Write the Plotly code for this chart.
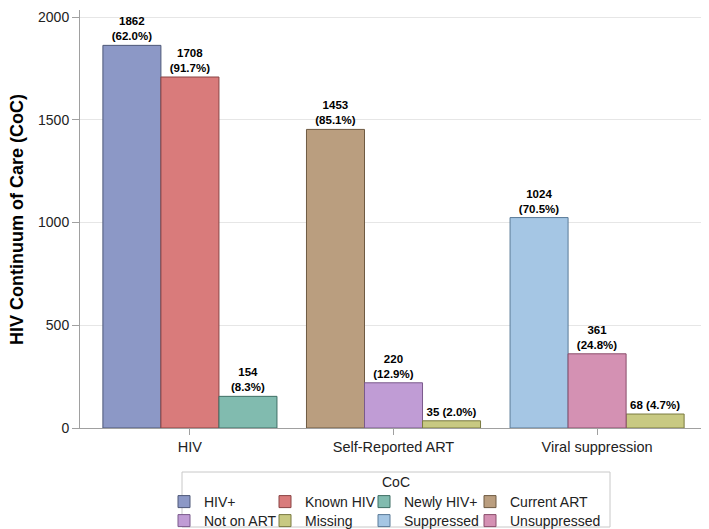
import plotly.graph_objects as go

categories = ['HIV', 'Self-Reported ART', 'Viral suppression']

# one entry per CoC level: name, categories it appears in, counts, percents, slot in group
series_names = ['HIV+', 'Known HIV', 'Newly HIV+', 'Current ART',
                'Not on ART', 'Missing', 'Suppressed', 'Unsuppressed']
series_cats = [['HIV'], ['HIV'], ['HIV'], ['Self-Reported ART'],
               ['Self-Reported ART'], ['Self-Reported ART', 'Viral suppression'],
               ['Viral suppression'], ['Viral suppression']]
series_counts = [[1862], [1708], [154], [1453], [220], [35, 68], [1024], [361]]
series_pcts = [[62.0], [91.7], [8.3], [85.1], [12.9], [2.0, 4.7], [70.5], [24.8]]
series_slot = ['1', '2', '3', '1', '2', '3', '1', '2']

fill_colors = ['#8C98C6', '#D97B7B', '#81BBAF', '#BA9E7F',
               '#C09CD5', '#C8C982', '#A5C6E4', '#D491B3']
line_colors = ['#4E5878', '#8A4444', '#3F6F65', '#6E5A42',
               '#7A5A8C', '#7A7A40', '#5A7A98', '#8A4E6C']

# the page is drawn with an 8px body margin, so positions below are page px minus 8
OFF = 8
W, H = 709 - OFF, 529 - OFF
L, R, T, B = 80 - OFF, 3, 2, 101
PW, PH = W - L - R, H - T - B

def px_x(p):
    return (p - OFF - L) / PW

def px_y(p):
    return (H - B - (p - OFF)) / PH

legend_cols = [183, 284, 383, 489]
legend_rows = [499, 518]

fig = go.Figure()
legends = {}

for i, name in enumerate(series_names):
    labels = []
    for v, p in zip(series_counts[i], series_pcts[i]):
        if v < 100:
            labels.append(f'{v} ({p:.1f}%)')
        else:
            labels.append(f'{v}<br>({p:.1f}%)')
    key = f'legend{i + 2}'
    fig.add_trace(go.Bar(
        x=series_cats[i], y=series_counts[i], name=name,
        offsetgroup=series_slot[i],
        marker=dict(color=fill_colors[i], line=dict(color=line_colors[i], width=1)),
        text=labels, textposition='outside', cliponaxis=False,
        textfont=dict(family='Liberation Sans, Arial', size=11.5, color='black', weight='bold'),
        legend=key,
    ))
    sx = legend_cols[i % 4]
    sy = legend_rows[i // 4]
    legends[key] = dict(
        xref='container', yref='container',
        x=(sx - OFF - 19) / W, xanchor='left',
        y=1 - (sy - OFF - 13) / H, yanchor='top',
        font=dict(family='Liberation Sans, Arial', size=14, color='#222'),
        bgcolor='rgba(0,0,0,0)',
    )

fig.update_layout(
    width=W, height=H,
    margin=dict(l=L, r=R, t=T, b=B, autoexpand=False),
    paper_bgcolor='white', plot_bgcolor='white',
    barmode='group', bargap=0.145, bargroupgap=0,
    font=dict(family='Liberation Sans, Arial', color='#222'),
    xaxis=dict(
        categoryorder='array', categoryarray=categories,
        range=[-0.54, 2.535],
        showline=True, linecolor='#A0A0A0', linewidth=1,
        ticks='outside', ticklen=6, tickcolor='#A0A0A0',
        tickfont=dict(size=14.5, color='#222'),
        showgrid=False, automargin=False,
    ),
    yaxis=dict(
        range=[0, PH / 0.2055], tickvals=[0, 500, 1000, 1500, 2000],
        showline=True, linecolor='#A0A0A0', linewidth=1,
        ticks='outside', ticklen=7, tickcolor='#A0A0A0',
        tickfont=dict(size=14, color='#222'), ticklabeloverflow='allow',
        showgrid=True, gridcolor='#E6E6E6', zeroline=False, automargin=False,
    ),
    annotations=[
        dict(text='HIV Continuum of Care (CoC)', xref='paper', yref='paper',
             x=px_x(17), y=px_y(220), textangle=-90,
             xanchor='center', yanchor='middle', showarrow=False,
             font=dict(size=18, color='black', weight='bold')),
        dict(text='CoC', xref='paper', yref='paper',
             x=px_x(396), y=px_y(482), xanchor='center', yanchor='middle',
             showarrow=False, font=dict(size=14, color='#222')),
    ],
    shapes=[dict(type='rect', xref='paper', yref='paper',
                 x0=px_x(182), x1=px_x(610),
                 y0=px_y(527), y1=px_y(472),
                 line=dict(color='#C8C8C8', width=1))],
    **legends,
)

fig.write_html('out.html')
